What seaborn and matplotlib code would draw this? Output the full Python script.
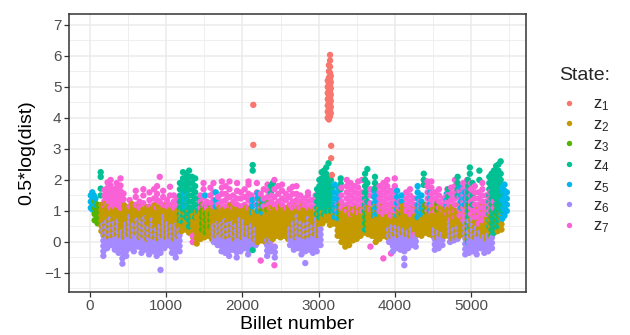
import matplotlib
matplotlib.use("Agg")
import matplotlib.pyplot as plt
import seaborn as sns
import pandas as pd
from matplotlib.ticker import MultipleLocator

# ---------------- data ----------------
states = ["z1", "z2", "z3", "z4", "z5", "z6", "z7"]
state_labels = [r"$\mathregular{z_{%d}}$" % i for i in range(1, 8)]
state_colors = ["#F8766D", "#C49A00", "#53B400", "#00C094", "#00B6EB", "#A58AFF", "#FB61D7"]

# each line: billet number : values of 0.5*log(dist) seen around it
z1_pts = """
2143: 4.42 3.13
3120: 4.0 4.2 4.4 4.6 4.8 5.0 5.2
3135: 3.95 4.1 4.3 4.5 4.7 4.9 5.1 5.3 5.5 5.7
3150: 4.05 4.25 4.45 4.65 4.85 5.05 5.25 5.45 5.65 5.85 6.03
3160: 4.15 4.35 4.55 4.75 4.95 5.15 5.35
3165: 3.1 2.7
3175: 2.16
"""

z2_pts = """
150: .35 .52 .69 .86 1.03 1.2
200: .2 .37 .54 .71 .88 1.05 1.22
250: .15 .32 .49 .66 .83 1.0 1.17
300: .2 .37 .54 .71 .88 1.05
350: .25 .42 .59 .76 .93 1.1
400: .2 .37 .54 .71 .88 1.05
450: .15 .32 .49 .66 .83 1.0 1.17
500: .25 .42 .59 .76 .93 1.1
550: .2 .37 .54 .71 .88 1.05 1.22
600: .3 .47 .64 .81 .98 1.1
650: .15 .32 .49 .66 .83 1.0 1.17
700: .2 .37 .54 .71 .88 1.05
750: .1 .27 .44 .61 .78 .95 1.12
800: .2 .37 .54 .71 .88 1.05
850: .15 .32 .49 .66 .83 1.0 1.17
900: .1 .27 .44 .61 .78 .95 1.12
950: .2 .37 .54 .71 .88 1.05
1000: .15 .32 .49 .66 .83 1.0 1.17
1050: .2 .37 .54 .71 .88 1.05
1100: .1 .27 .44 .61 .78 .95 1.12
1150: .2 .37 .54 .71 .88 1.02
1200: .35 .52 .69 .86 1.0
1250: .4 .57 .74 .91
1300: .3 .47 .64 .81 .98
1350: 0 .17 .34 .51 .68 .85
1400: -.05 .12 .29 .46 .63 .8 .97
1450: .1 .27 .44 .61 .78 .95
1500: .15 .32 .49 .66 .83 1.0
1550: .2 .37 .54 .71 .88 1.0
1600: .1 .27 .44 .61 .78 .95 1.1
1650: .2 .37 .54 .71 .88 1.05
1700: .25 .42 .59 .76 .93 1.1
1750: .2 .37 .54 .71 .88 1.05
1800: .15 .32 .49 .66 .83 1.0
1850: .2 .37 .54 .71 .88 1.05 1.2
1900: .1 .27 .44 .61 .78 .95 1.1
1950: .2 .37 .54 .71 .88 1.05
2000: .15 .32 .49 .66 .83 1.0
2050: .25 .42 .59 .76 .93 1.1
2100: .2 .37 .54 .71 .88 1.05
2150: .1 .27 .44 .61 .78 .95
2200: 0 .17 .34 .51 .68 .85 1.02
2250: .05 .22 .39 .56 .73 .9 1.07
2300: 0 .17 .34 .51 .68 .85 1.02
2350: .05 .22 .39 .56 .73 .9 1.07
2400: .1 .27 .44 .61 .78 .95 1.12
2450: .2 .37 .54 .71 .88 1.05
2500: .15 .32 .49 .66 .83 1.0 1.15
2550: .2 .37 .54 .71 .88 1.05
2600: .1 .27 .44 .61 .78 .95 1.12
2650: .2 .37 .54 .71 .88 1.05
2700: .15 .32 .49 .66 .83 1.0 1.15
2750: .25 .42 .59 .76 .93 1.1
2800: .2 .37 .54 .71 .88 1.05 1.2
2850: .15 .32 .49 .66 .83 1.0
2900: .2 .37 .54 .71 .88 1.05
2950: .25 .42 .59 .76 .93 1.05
3000: .2 .37 .54 .71 .88 1.05
3050: .6 .77 .94
3100: .7 .87 1.0
3150: .55 .72 .89 1.0
3200: .6 .77 .94
3250: .2 .37 .54 .71 .88 1.05
3300: 0 .17 .34 .51 .68 .85 1.02 1.19
3350: -.15 .02 .19 .36 .53 .7 .87 1.04
3400: -.1 .07 .24 .41 .58 .75 .92 1.09
3450: .05 .22 .39 .56 .73 .9 1.07
3500: .1 .27 .44 .61 .78 .95 1.1
3550: .2 .37 .54 .71 .88 1.05
3600: .3 .47 .64 .81 .98 1.15
3650: .25 .42 .59 .76 .93 1.1
3700: .2 .37 .54 .71 .88 1.05
3750: 0 .17 .34 .51 .68 .85 1.02 1.19
3800: .1 .27 .44 .61 .78 .95 1.12
3850: .2 .37 .54 .71 .88 1.05 1.2
3900: .15 .32 .49 .66 .83 1.0
3950: .2 .37 .54 .71 .88 1.05
4000: .25 .42 .59 .76 .93 1.1
4050: .2 .37 .54 .71 .88 1.05
4100: .3 .47 .64 .81 .98 1.15
4150: .25 .42 .59 .76 .93 1.1
4200: .2 .37 .54 .71 .88 1.05
4250: .3 .47 .64 .81 .98 1.15
4300: .25 .42 .59 .76 .93 1.1
4350: .2 .37 .54 .71 .88 1.05
4400: .3 .47 .64 .81 .98 1.15
4450: .25 .42 .59 .76 .93 1.1
4500: .2 .37 .54 .71 .88 1.05
4550: .15 .32 .49 .66 .83 1.0 1.15
4600: .25 .42 .59 .76 .93 1.1
4650: .2 .37 .54 .71 .88 1.05
4700: .2 .37 .54 .71 .88 1.05
4750: .1 .27 .44 .61 .78 .95 1.12
4800: .15 .32 .49 .66 .83 1.0
4850: .2 .37 .54 .71 .88 1.05 1.2
4900: .25 .42 .59 .76 .93 1.1
4950: .1 .27 .44 .61 .78 .95 1.12
5000: .2 .37 .54 .71 .88 1.05 1.2
5050: .15 .32 .49 .66 .83 1.0
5100: .25 .42 .59 .76 .93 1.1
5150: .2 .37 .54 .71 .88 1.05 1.2
5200: .1 .27 .44 .61 .78 .95 1.1
5250: .2 .37 .54 .71 .88 1.05
5300: .3 .47 .64 .81 .98
5350: .35 .52 .69 .86
5400: .4 .57 .74 .91
"""

z3_pts = """
60: .7 .9 1.1 1.3
100: .6 .8 1.0 1.2
140: .75 .95 1.15
1470: .4 .6 .8 1.0 1.2
1520: .3 .5 .7 .9 1.1
1580: .5 .7 .9 1.2
2250: 1.0 1.2 1.35
2330: 1.05 1.25
3280: .85 1.05 1.2
3620: .6 .8 1.0
4400: 1.0 1.2
4560: 1.05 1.25
5300: .4 .6 .8 1.0 1.2
5350: .5 .7 .9 1.1
"""

z4_pts = """
140: 2.25 2.1 1.72 1.5
1180: .7 .9 1.1 1.3 1.5 1.7 1.9
1220: .65 .85 1.05 1.25 1.45 1.65 1.85 2.05 2.25
1260: .8 1.0 1.2 1.4 1.6 1.8 2.0 2.2
1300: .5 .7 .9 1.1 1.3 1.5 1.7 1.9 2.1 2.3
1340: .9 1.1 1.3 1.5 1.7 1.9 2.1
1380: .8 1.0 1.2 1.4 1.6 1.8 2.05
1420: 1.0 1.2 1.4
2135: 2.48 2.3 -.26
2375: 1.57 1.8
2400: 1.7 1.9
2980: .9 1.1 1.3 1.5 1.7
3010: .8 1.0 1.2 1.4 1.6 1.8 2.0
3040: .85 1.05 1.25 1.45 1.65 1.85 2.05 2.25
3070: .9 1.1 1.3 1.5 1.7 1.9 2.1 2.3
3100: 1.0 1.2 1.4 1.6 1.8 2.0 2.2 2.4
3130: 1.1 1.3 1.5 1.7 1.9 2.1 2.54
3160: 1.0 1.2 1.4 1.6 1.8 2.0
3190: 1.2 1.4 1.6 1.8
3290: 1.7 1.88 2.05
3610: .4 .6 .8 1.0 1.2 1.4 1.6 1.8 2.0 2.2
3640: .7 .9 1.1 1.3 1.5 1.7 1.9 2.35
3740: 1.73 1.9 2.1
4380: 1.84 2.0 2.2
4700: 1.45 1.7
4825: 1.5 1.7 1.9 2.1
4960: 0 .2 .4 .6 .8 1.0 1.2 1.4 1.6 1.8 2.0
4985: 2.2 2.4 1.1 .5
5020: 1.2 1.5 1.9
5110: 2.3 2.0
5240: .5 .7 .9 1.1 1.3 1.5 1.7 1.9 2.1
5270: .2 .4 .6 .8 1.0 1.2 1.4 1.6 1.8 2.0 2.2
5300: .3 .5 .7 .9 1.1 1.3 1.5 1.7 1.9 2.1 2.3
5330: .4 .6 .8 1.0 1.2 1.4 1.6 1.8 2.0 2.2 2.45
5360: .5 .7 .9 1.1 1.3 1.5 1.7 1.9 2.1 2.3 2.5
5390: .6 .8 1.0 1.2 1.4 1.6 1.8 2.0 2.2 2.6
5420: 1.0 1.2 1.5
"""

z5_pts = """
10: 1.1 1.3 1.5
30: 1.05 1.25 1.45 1.6
50: 1.1 1.3 1.5
70: 1.2 1.4
1240: 1.15 1.35 1.55
1280: 1.1 1.3 1.5
1510: 1.5
1650: 1.15 1.35 1.6
2130: .95 1.15 1.35
2200: 1.0 1.2 1.4 1.57
2270: .93 1.15 1.35
3210: .8 1.0 1.2 1.4 1.6 1.85
3260: .76 .95 1.15 1.35 1.55 1.75
3730: .85 1.05 1.25 1.45 1.65
3760: .9 1.1 1.3 1.5
4030: .85 1.05 1.25 1.45 1.65
4090: .9 1.1 1.3 1.5
4300: .8 1.0 1.2 1.4 1.6 1.8
4350: .9 1.1 1.3 1.5
4460: 1.0 1.2 1.4 1.6
4680: 1.15 1.35 1.55
4870: 1.1 1.3 1.5 1.75
4920: 1.2 1.4 1.6
5410: .75 .95 1.15 1.35 1.55 1.75
5440: .85 1.05 1.25 1.45 1.65 1.85
5470: 1.0 1.2 1.4 1.6
"""

z6_pts = """
175: -.45 -.3 -.13 .04 .21 .38 .55
225: -.2 -.03 .14 .31 .48 .65
275: -.1 .07 .24 .41 .58 .75
325: -.25 -.08 .09 .26 .43 .6
375: -.35 -.18 -.01 .16 .33 .5 .67
425: -.7 -.53 -.36 -.19 -.02 .15 .32
475: -.45 -.28 -.11 .06 .23 .4 .57
525: -.2 -.03 .14 .31 .48 .65 .82
575: -.3 -.13 .04 .21 .38 .55
625: -.15 .02 .19 .36 .53 .7
675: -.35 -.18 -.01 .16 .33 .5 .67
725: -.25 -.08 .09 .26 .43 .6 .77
775: -.4 -.23 -.06 .11 .28 .45
825: -.3 -.13 .04 .21 .38 .55 .72
875: -.45 -.28 -.11 .06 .23 .4
925: -.9 -.35 -.18 -.01 .16 .33 .5
975: -.2 -.03 .14 .31 .48 .65 .82
1025: -.1 .07 .24 .41 .58
1075: -.35 -.18 -.01 .16 .33 .5
1125: -.5 -.33 -.16 .01 .18 .35 .52
1175: -.3 -.13 .04 .21 .38
1625: 0 .17 .34 .5
1675: -.1 .07 .24 .41 .58
1725: -.3 -.13 .04 .21 .38 .55
1775: -.35 -.18 -.01 .16 .33 .5 .67
1825: -.45 -.28 -.11 .06 .23 .4 .57
1875: -.25 -.08 .09 .26 .43 .6
1925: -.5 -.33 -.16 .01 .18 .35 .52
1975: -.3 -.13 .04 .21 .38 .55 .72
2025: -.2 -.03 .14 .31 .48 .65
2075: -.4 -.23 -.06 .11 .28 .45
2125: -.15 .02 .19 .36 .53
2175: -.1 .07 .24 .41
2325: -.45 -.28 -.11 .05
2375: -.3 -.13 .04
2425: -.5 -.33 -.16
2625: -.1 .07 .24 .41
2675: -.25 -.08 .09 .26 .43 .6
2725: -.2 -.03 .14 .31 .48 .65 .82
2775: -.4 -.23 -.06 .11 .28 .45 .62
2825: -.68 -.3 -.13 .04 .21 .38 .55
2875: -.25 -.08 .09 .26 .43 .6 .77
2925: -.35 -.18 -.01 .16 .33 .5
2975: -.3 -.13 .04 .21 .38 .55 .72
3025: -.1 .07 .24 .41
3925: 0 .2 .4
3975: -.3 -.13 .04 .21 .38 .5
4025: -.2 -.03 .14 .31 .48
4075: -.25 -.08 .09 .26 .43
4125: -.75 -.53 -.3 -.13 .04 .21 .38
4175: -.2 -.03 .14 .31
4225: -.1 .07 .24 .41
4275: -.15 .02 .19
4525: -.25 -.08 .09 .26 .4
4575: -.2 -.03 .14 .31
4625: -.1 .07 .24
4725: 0 .17 .34 .5 .65
4775: .05 .22 .39
4825: .1 .27 .45
4925: -.4 -.23 -.06 .11 .28 .45 .62
4975: -.35 -.18 -.01 .16 .33 .5 .67
5025: -.3 -.13 .04 .21 .38 .55 .72
5075: -.4 -.23 -.06 .11 .28 .45
5125: -.2 -.03 .14 .31
5175: -.35 -.18 -.01 .16
5225: -.3 -.13 .04 .21
5275: -.2 -.03 .14
"""

z7_pts = """
190: 1.15 1.32 1.5 1.68
230: 1.2 1.38 1.56 1.74 1.92
270: 1.1 1.28 1.46 1.64 1.82 2.0
310: 1.15 1.33 1.51 1.69
350: 1.2 1.38 1.56 1.74 1.9
400: 1.1 1.28 1.46 1.64 1.82 2.05
440: 1.2 1.38 1.56
520: 1.15 1.35
600: 1.2 1.45 1.65
650: 1.1 1.3
700: 1.25 1.5 1.7
780: 1.15 1.35 1.6
840: 1.2 1.4 1.7
880: 1.1 1.35 1.55 1.8
915: 1.3 2.1
960: 1.2 1.45 1.65
1010: 1.15 1.35
1050: 1.2 1.5 1.78
1100: 1.1 1.3 1.5
1150: 1.2 1.4
1350: .2 0
1450: 1.1 1.3 1.5
1490: 1.2 1.45 1.7 1.9
1530: 1.1 1.3
1580: 1.25 1.5 1.75
1620: 1.15 1.35 1.6 1.9
1680: 1.2 1.45
1730: 1.1 1.3 1.55 1.75 1.95
1780: 1.15 1.35 1.55 1.8
1830: 1.2 1.45 1.7 1.95
1880: 1.1 1.3 1.5
1930: 1.2 1.4 1.65 1.9
1980: 1.15 1.4 1.6
2030: 1.2 1.45 1.7
2080: 1.1 1.35 1.55 1.85 1.95
2120: 1.25 1.5
2190: 1.2 1.4 1.6 1.9
2240: 1.1 1.3 1.55 -.6
2280: 1.15 1.4 1.7
2330: 1.2 1.45 1.65 1.85
2380: 1.1 1.3 1.5
2420: 1.2 1.45 1.7 2.0 -.75 -.15
2470: 1.1 1.3 1.55 1.8
2520: 1.2 1.4 1.65 1.85
2570: 1.1 1.35 1.55
2620: 1.2 1.45 1.7
2660: 1.1 1.3 1.55 1.78
2710: 1.15 1.35 1.55 1.8
2760: 1.1 1.3 1.5
2810: 1.2 1.4
2860: 1.1 1.3 1.5 1.6
2910: 1.15 1.35
2960: 1.1 1.3 1.5
3250: 1.0 1.2
3300: 1.1 1.3 1.5 1.75
3370: 1.0 1.2 1.4 1.6 1.8 2.0
3420: .9 1.1 1.3 1.5 1.7 1.9
3470: 1.0 1.2 1.4 1.6 1.8
3520: .95 1.15 1.35 1.55 1.75 1.95
3570: 1.0 1.2 1.4 1.6 2.0
3620: 1.1 1.3
3680: 1.05 1.25 1.5 1.7 -.15
3800: 1.0 1.2 1.4 1.6 1.8
3850: .9 1.1 1.3 1.5 1.7 1.9 -.53
3900: 1.0 1.2 1.4 1.6 1.8 2.0
3950: .85 1.05 1.25 1.45 1.65 -.37
4000: 1.0 1.2 1.4 1.6 1.8 2.05
4060: 1.1 1.3
4150: 1.0 1.2 1.4 1.6
4200: .9 1.1 1.3 1.5 1.7
4250: 1.0 1.2 1.4 .22
4330: 1.1 1.3
4430: 1.0 1.2 1.4 1.6 1.8 1.95
4480: .95 1.15 1.35 1.55 1.75 1.95
4530: 1.0 1.2 1.4 1.6
4580: 1.1 1.3 1.5 1.7
4640: 1.0 1.2 1.4
4690: .9 1.1 1.3 1.5 1.7
4740: .75 .95 1.15 1.35 1.55 1.75
4790: .8 1.0 1.2 1.4 1.6 1.8 2.0
4850: .85 1.05 1.25 1.45 1.65
4900: .7 .9 1.1 1.3 1.5 1.7 1.9
4950: .8 1.0 1.2 1.4 1.6 2.0
5000: .9 1.1 1.3 1.5 1.7 1.9
5050: .8 1.0 1.2 1.4 1.6 1.8
5100: .6 .8 1.0 1.2 1.4 1.6
5150: .7 .9 1.1 1.3 1.5 1.7 1.9
5200: .9 1.1 1.3 1.5
5250: 1.0 1.2 1.4 1.6
5300: 1.1 1.3
"""

state_points = [z1_pts, z2_pts, z3_pts, z4_pts, z5_pts, z6_pts, z7_pts]

x_ticks = [0, 1000, 2000, 3000, 4000, 5000]
y_ticks = [-1, 0, 1, 2, 3, 4, 5, 6, 7]


def parse(block):
    xs, ys = [], []
    for line in block.strip().splitlines():
        key, vals = line.split(":")
        for v in vals.split():
            xs.append(float(key))
            ys.append(float(v))
    return xs, ys


rows = []
for st, block in zip(states, state_points):
    xs, ys = parse(block)
    for xv, yv in zip(xs, ys):
        rows.append((xv, yv, st))
df = pd.DataFrame(rows, columns=["billet", "val", "state"])
df = df.sort_values("billet", kind="stable").reset_index(drop=True)

# ---------------- plot ----------------
sns.set_theme(style="white")
plt.rcParams["font.family"] = ["Liberation Sans", "DejaVu Sans"]
plt.rcParams["mathtext.fontset"] = "custom"
plt.rcParams["mathtext.rm"] = "Liberation Sans"
plt.rcParams["mathtext.it"] = "Liberation Sans:italic"

fig = plt.figure(figsize=(6.3, 3.35), dpi=100)
ax = fig.add_axes([69 / 630, 43.4 / 335, 457 / 630, 277.6 / 335])

sns.scatterplot(data=df, x="billet", y="val", hue="state", hue_order=states,
                palette=dict(zip(states, state_colors)), s=21, linewidth=0,
                alpha=1, ax=ax, legend=True, zorder=3)

ax.set_xlim(-276, 5722)
ax.set_ylim(-1.6, 7.35)
ax.set_xticks(x_ticks)
ax.set_yticks(y_ticks)
ax.set_yticklabels(["\u22121" if t < 0 else str(t) for t in y_ticks])
ax.xaxis.set_minor_locator(MultipleLocator(500))
ax.yaxis.set_minor_locator(MultipleLocator(0.5))
ax.grid(True, which="major", color="#EBEBEB", linewidth=1.1, zorder=0)
ax.grid(True, which="minor", color="#EBEBEB", linewidth=0.55, zorder=0)
ax.set_axisbelow(True)
for sp in ax.spines.values():
    sp.set_color("#333333")
    sp.set_linewidth(1.1)
ax.tick_params(axis="both", which="major", direction="out", length=3.5,
               width=0.9, color="#333333", labelcolor="#4D4D4D", labelsize=11,
               bottom=True, left=True, pad=2)
ax.tick_params(axis="both", which="minor", length=0)
ax.set_xlabel("Billet number", fontsize=14, color="black", labelpad=2)
ax.set_ylabel("0.5*log(dist)", fontsize=14, color="black", labelpad=6)

handles, labels = ax.get_legend_handles_labels()
leg = ax.legend(handles, state_labels, title="State:", loc="upper left",
                bbox_to_anchor=(0.877, 0.82), bbox_transform=fig.transFigure,
                frameon=False, fontsize=12, title_fontsize=14,
                markerscale=0.85, handletextpad=0.8, labelspacing=0.22,
                handlelength=1.2, borderaxespad=0)
leg._legend_box.align = "left"
leg._legend_box.sep = 9

fig.savefig("out.png", dpi=100)
